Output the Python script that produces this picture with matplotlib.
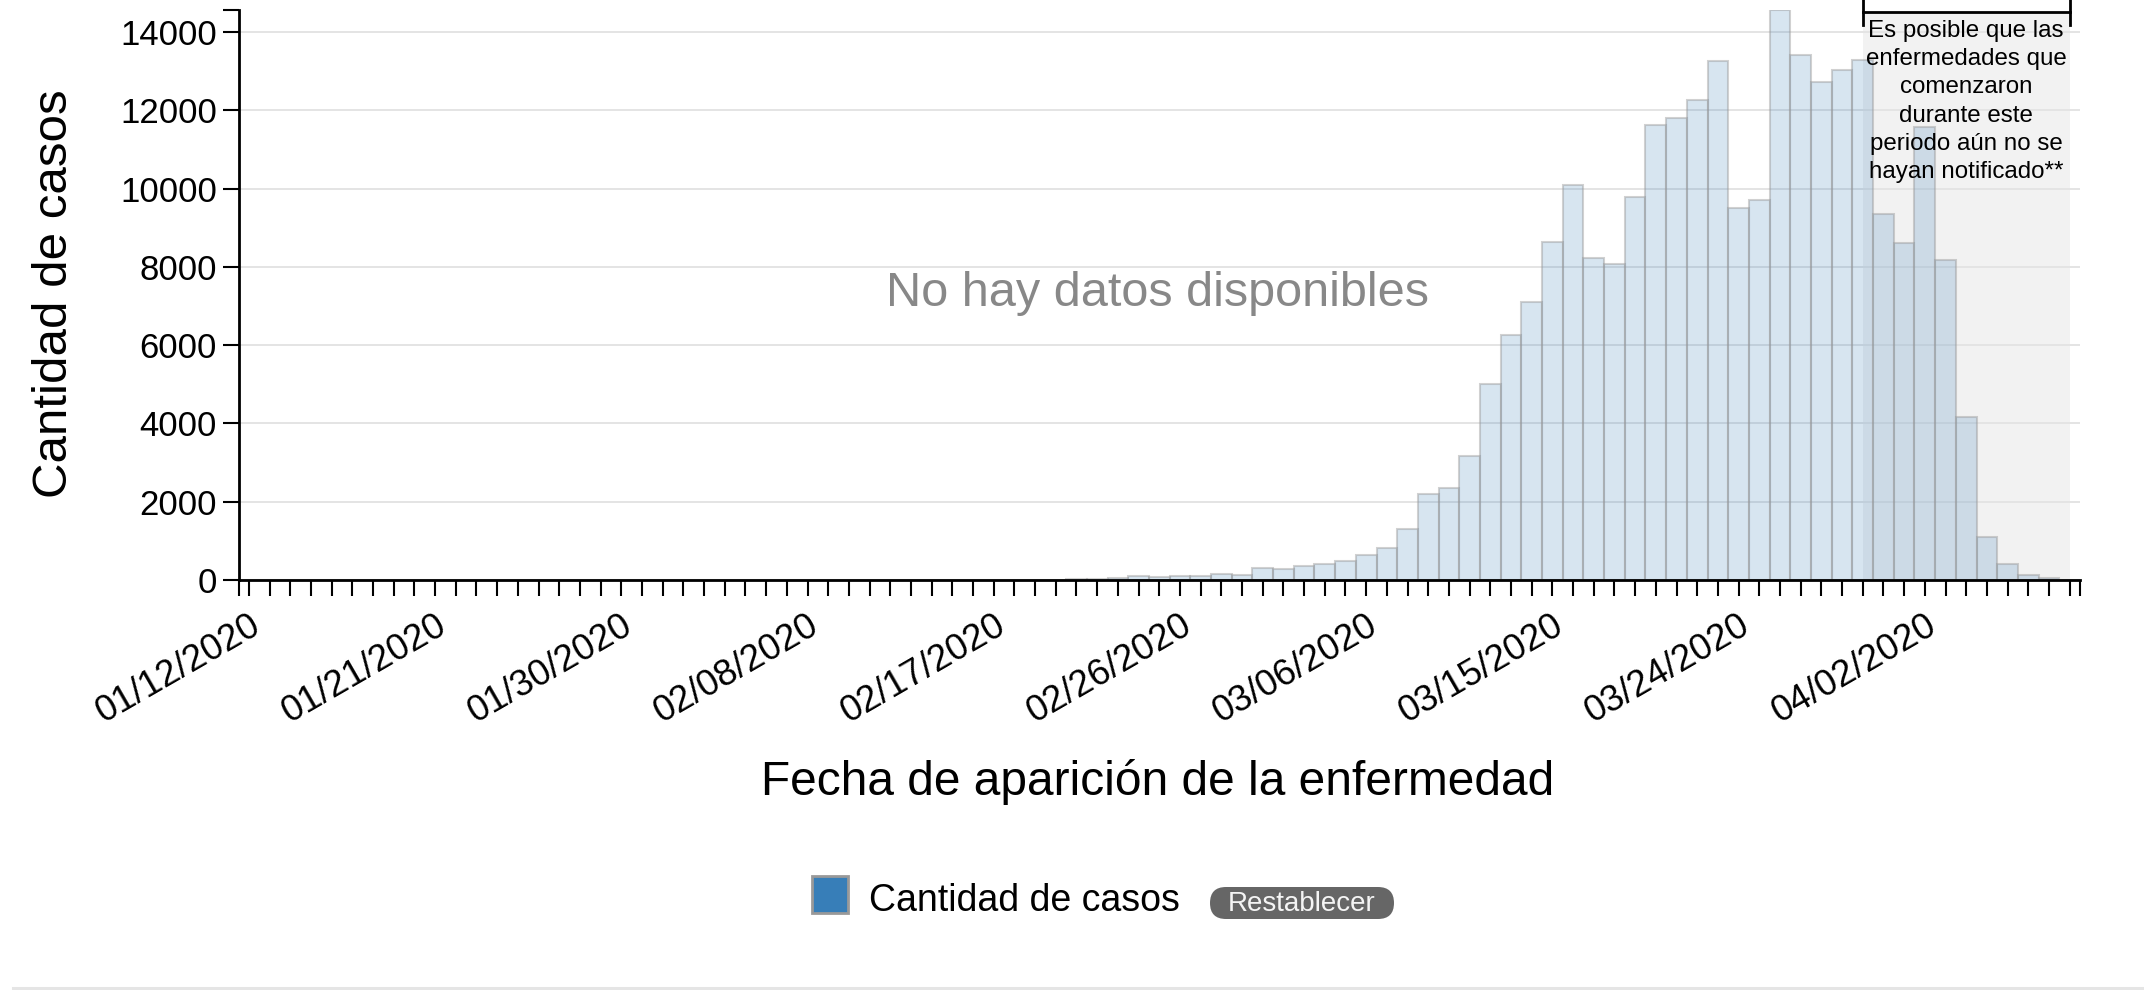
import datetime as dt

import matplotlib
matplotlib.use("Agg")
import matplotlib.pyplot as plt
from matplotlib.lines import Line2D
from matplotlib.patches import FancyBboxPatch, Rectangle
from matplotlib.transforms import IdentityTransform, ScaledTranslation, blended_transform_factory

plt.rcParams['font.family'] = ['Liberation Sans', 'DejaVu Sans']

# casos por fecha de inicio (01/12/2020 .. 04/09/2020)
start = dt.date(2020, 1, 12)
cases = [
    0, 0, 0, 0, 0, 0, 0, 0, 0, 0, 0, 0,
    0, 0, 0, 0, 0, 0, 0, 0, 0, 0, 0, 0,
    0, 0, 0, 0, 0, 0, 0, 0, 0, 0, 0, 0,
    3, 5, 8, 12, 20, 30, 50, 90, 70, 105, 105, 165,
    125, 315, 280, 360, 420, 495, 650, 810, 1290, 2190, 2355, 3175,
    5010, 6260, 7090, 8640, 10090, 8225, 8070, 9780, 11630, 11800, 12260, 13270,
    9505, 9710, 14560, 13400, 12730, 13020, 13290, 9360, 8610, 11580, 8170, 4160,
    1100, 420, 130, 40, 0,
]
dates = [start + dt.timedelta(days=i) for i in range(len(cases))]
tick_labels = [d.strftime('%m/%d/%Y') if i % 9 == 0 else '' for i, d in enumerate(dates)]
y_ticks = [0, 2000, 4000, 6000, 8000, 10000, 12000, 14000]

# ultimos dias con posible retraso en la notificacion
delay_start = dt.date(2020, 3, 30)
delay_end = dt.date(2020, 4, 9)
delay_note = ['Es posible que las', 'enfermedades que', 'comenzaron',
              'durante este', 'periodo aún no se', 'hayan notificado**']

W, H = 2144, 990
fig = plt.figure(figsize=(W / 100, H / 100), dpi=100)
ax = fig.add_axes([238.5 / W, 410 / H, (2080 - 238.5) / W, 570 / H])

x = list(range(len(cases)))
ax.bar(x, cases, width=1.0, color=(0x37 / 255, 0x7e / 255, 0xb8 / 255, 0.2),
       edgecolor=(0.6, 0.6, 0.6, 0.45), linewidth=1.5, zorder=2)

x0 = (delay_start - start).days
x1 = (delay_end - start).days
ax.axvspan(x0, x1, ymax=0.996, color='#f2f2f2', zorder=1, lw=0)

ax.set_xlim(-0.5, len(cases) - 0.5)
ax.set_ylim(0, max(cases))
ax.set_axisbelow('line')
ax.yaxis.grid(True, color='#e4e4e4', linewidth=1.4)

for s in ['top', 'right']:
    ax.spines[s].set_visible(False)
for s in ['left', 'bottom']:
    ax.spines[s].set_linewidth(2.0)
    ax.spines[s].set_color('black')

ax.set_xticks(x, labels=tick_labels)
ax.set_xticks([-0.5, len(cases) - 0.5], minor=True)
ax.set_yticks(y_ticks, labels=[str(v) for v in y_ticks])
ax.set_yticks([max(cases)], minor=True)
ax.tick_params(which='both', length=11.5, width=1.5, color='black')
ax.tick_params(axis='y', labelsize=25, pad=4)
ax.tick_params(axis='x', labelsize=26.5, pad=7)
for lab in ax.get_xticklabels():
    lab.set_rotation(30)
    lab.set_ha('right')
    lab.set_va('top')
    lab.set_rotation_mode('anchor')
    lab.set_transform(lab.get_transform() + ScaledTranslation(0.0, -0.02, fig.dpi_scale_trans))

# corchete y nota del periodo de retraso
bt = blended_transform_factory(ax.transData, ax.transAxes)
ax.plot([x0, x1], [0.997, 0.997], color='black', lw=2.0, transform=bt, clip_on=False, zorder=5)
for xb in (x0, x1):
    ax.plot([xb, xb], [0.974, 1.02], color='black', lw=2.0, transform=bt, clip_on=False, zorder=5)
for i, line in enumerate(delay_note):
    ax.text((x0 + x1) / 2, (580 - 36.7 - 28.3 * i) / 570, line, transform=bt,
            ha='center', va='baseline', fontsize=17.4, color='black', zorder=6)

fig.text(1158 / W, 1 - 293 / H, 'No hay datos disponibles', ha='center', va='center',
         fontsize=35, color='#888888')
fig.text(1158 / W, 1 - 782 / H, 'Fecha de aparición de la enfermedad', ha='center',
         va='center', fontsize=34.5)
fig.text(55 / W, 1 - 294 / H, 'Cantidad de casos', ha='center', va='center',
         rotation=90, fontsize=35.5)

# leyenda y boton
fig.add_artist(Rectangle((812, H - 913), 36, 37, transform=IdentityTransform(),
                         facecolor='#377eb8', edgecolor='#999999', linewidth=2))
fig.text(869 / W, 1 - 901 / H, 'Cantidad de casos', ha='left', va='center', fontsize=27)
fig.add_artist(FancyBboxPatch((1210, H - 919), 184, 32, transform=IdentityTransform(),
                              boxstyle='round,pad=0,rounding_size=16',
                              facecolor='#666666', edgecolor='none'))
fig.text(1302 / W, 1 - 904 / H, 'Restablecer', ha='center', va='center',
         fontsize=20, color='#f4f4f4')
fig.add_artist(Line2D([13, W], [2, 2], transform=IdentityTransform(),
                      color='#e5e5e5', lw=2.2))

fig.savefig('out.png', dpi=100)
